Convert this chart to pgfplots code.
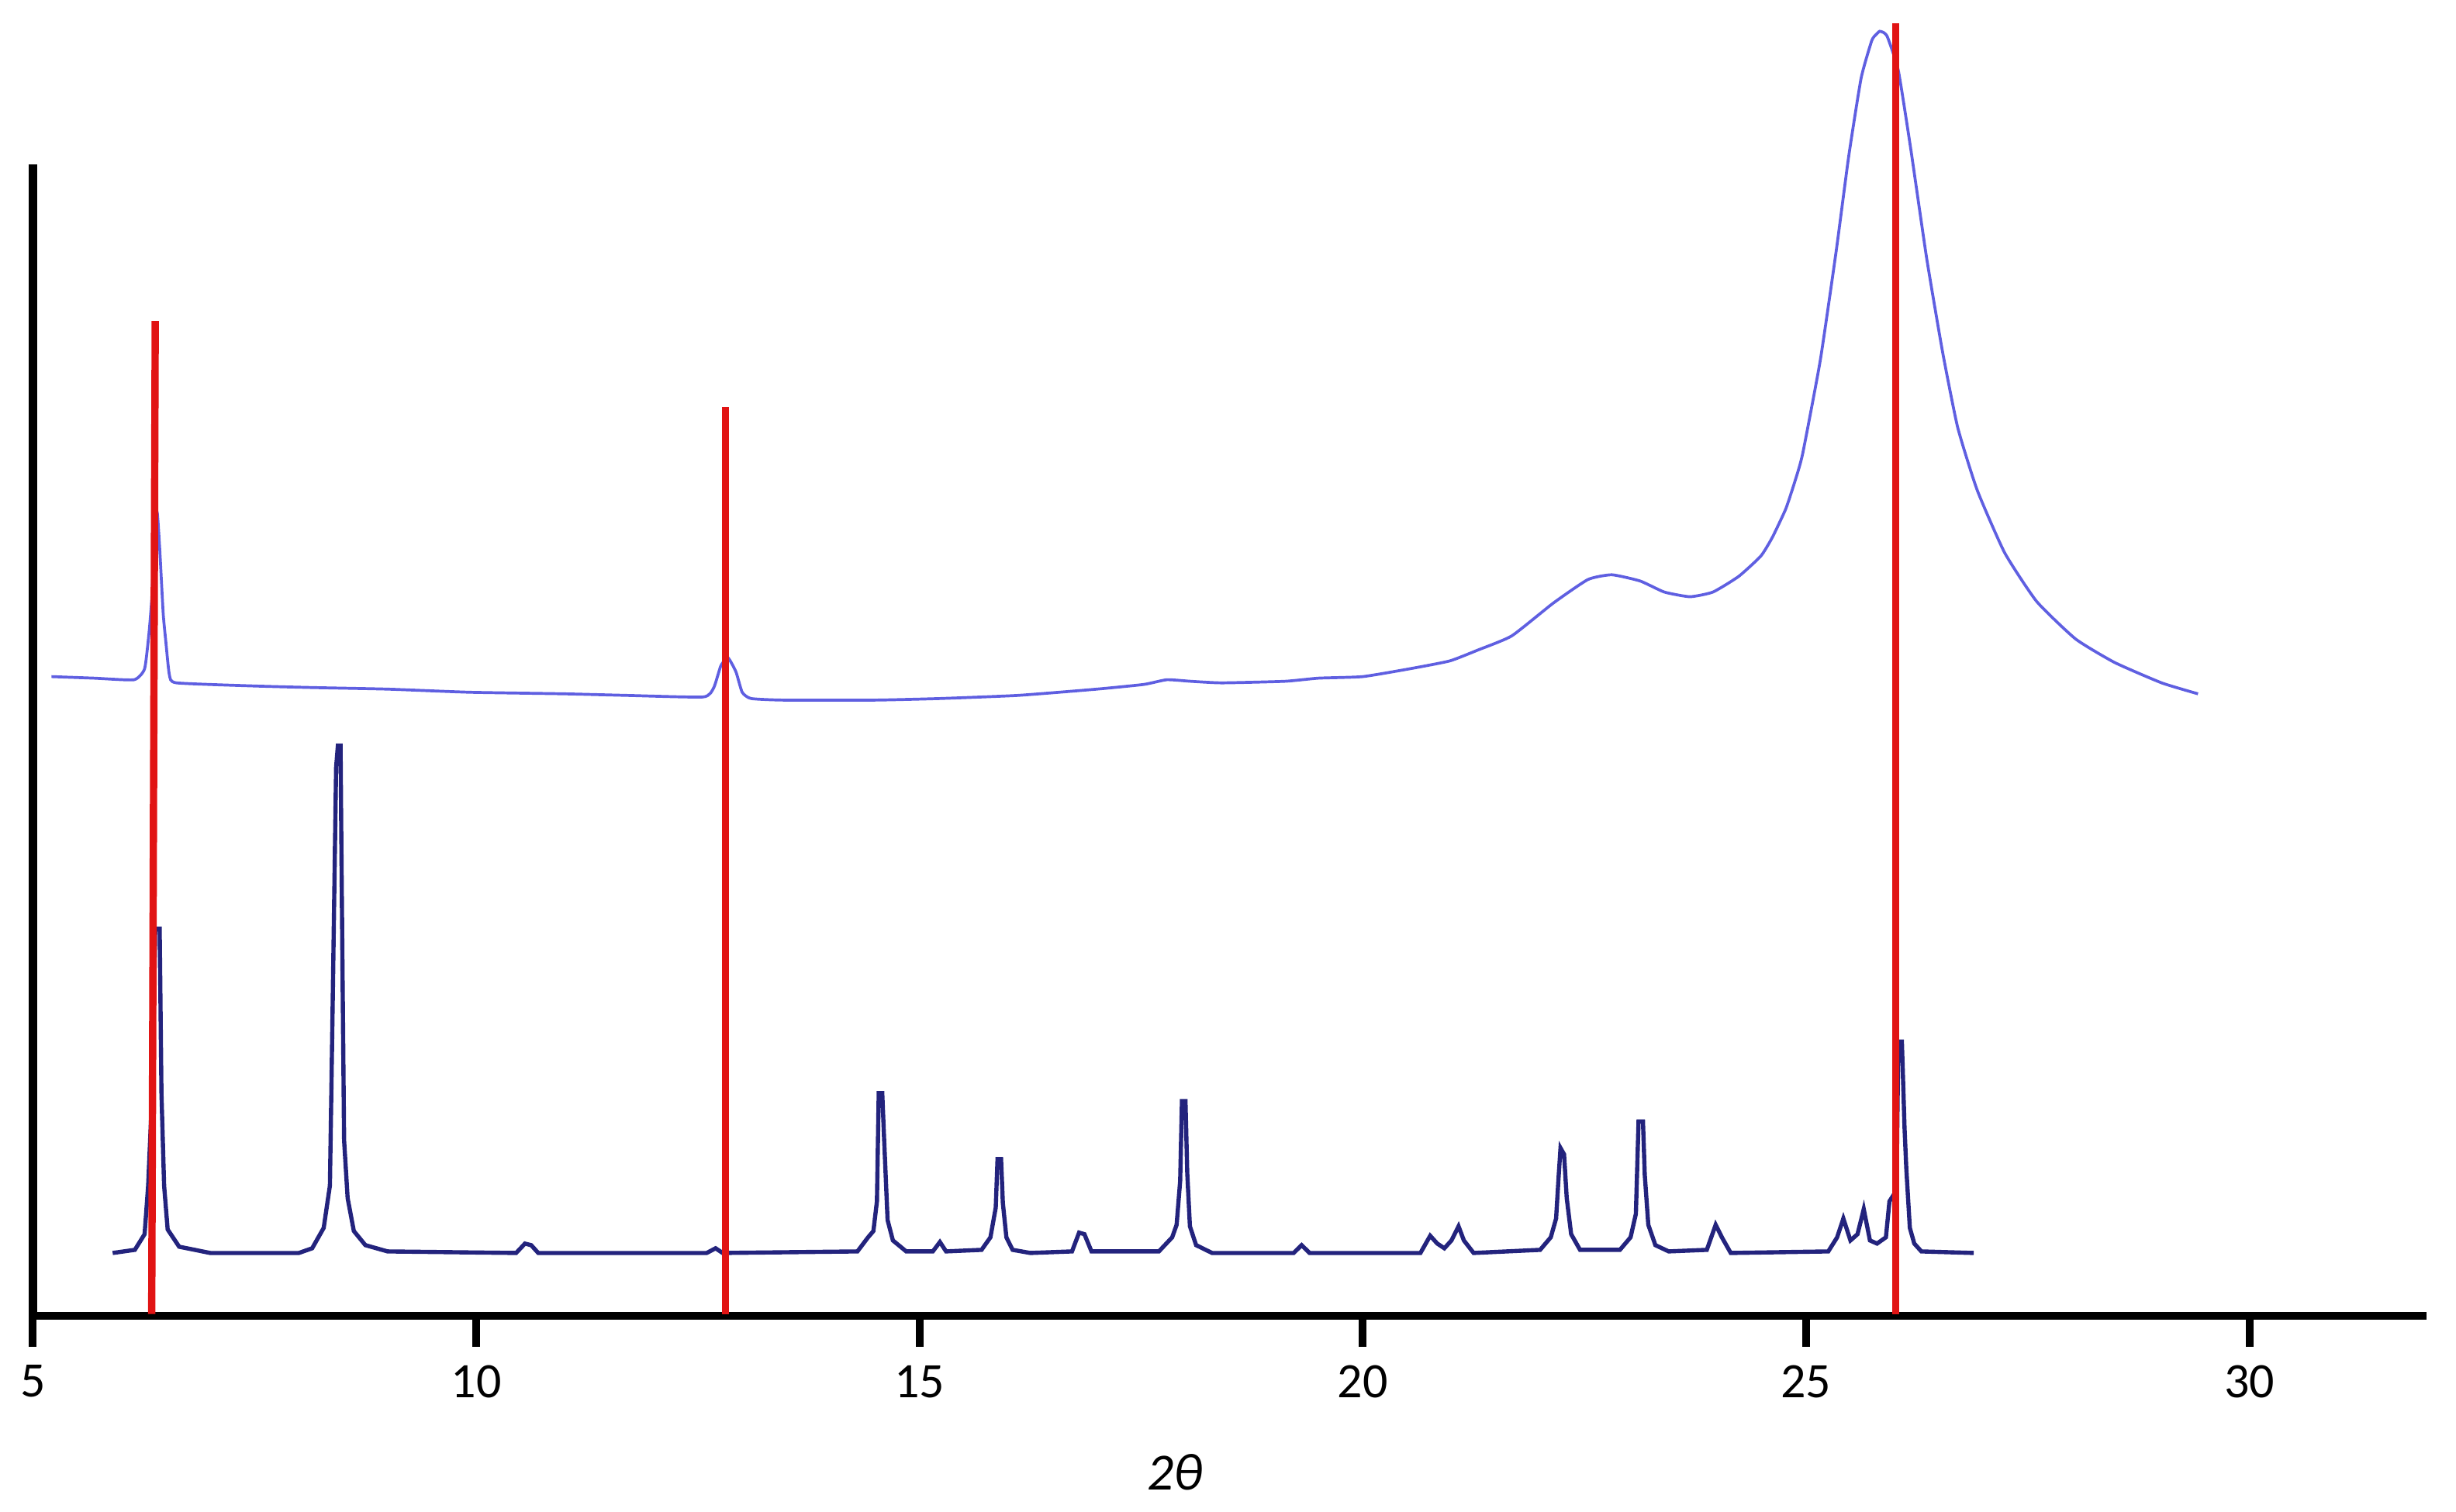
\documentclass[border=0pt]{standalone}
\usepackage{pgfplots}
\pgfplotsset{compat=1.18}
\usepackage{fontspec}
\setmainfont{Carlito}
\definecolor{upper}{RGB}{95,95,225}
\definecolor{lower}{RGB}{35,35,125}
\definecolor{redline}{RGB}{225,20,20}
\pgfplotstableread{
x y
5.21 408
5.69 407
6.14 406
6.26 413
6.31 436
6.34 457
6.36 481
6.40 513
6.43 490
6.47 448
6.50 430
6.54 409
6.62 404
7.50 402
8.16 401
9.00 400
9.93 398
11.00 397
11.70 396
12.56 395
12.68 401
12.76 415
12.84 420
12.93 411
13.00 398
13.10 394
13.46 393
14.50 393
15.23 394
16.11 396
17.00 400
17.53 403
17.79 406
18.06 405
18.41 404
19.12 405
19.50 407
20.00 408
20.53 413
20.98 418
21.30 425
21.68 434
22.15 455
22.54 470
22.81 473
23.13 469
23.40 462
23.69 459
23.95 462
24.24 472
24.49 485
24.62 497
24.77 515
24.87 532
24.96 550
25.16 610
25.34 680
25.48 740
25.62 790
25.74 814
25.79 818
25.83 820
25.88 819
25.92 816
26.04 795
26.18 745
26.36 675
26.54 615
26.71 567
26.93 527
27.24 487
27.60 456
28.04 432
28.48 417
29.01 404
29.42 397
}\uppertab
\pgfplotstableread{
x y
5.90 40
6.15 42
6.26 52
6.30 83
6.35 148
6.38 247
6.43 247
6.45 142
6.48 83
6.52 55
6.65 44
7.00 40
8.00 40
8.15 43
8.28 56
8.35 83
8.38 194
8.42 350
8.44 364
8.47 364
8.48 296
8.51 112
8.55 75
8.62 54
8.75 45
9.00 41
10.45 40
10.55 46
10.62 45
10.70 40
12.60 40
12.70 43
12.78 40
14.30 41
14.42 50
14.48 54
14.52 73
14.54 142
14.58 142
14.60 114
14.64 61
14.70 48
14.85 41
15.15 41
15.23 47
15.30 41
15.70 42
15.80 50
15.86 69
15.88 100
15.92 100
15.94 72
15.98 50
16.05 42
16.25 40
16.72 41
16.80 53
16.86 52
16.94 41
17.70 41
17.85 50
17.90 58
17.94 86
17.96 137
18.00 137
18.02 91
18.05 57
18.12 45
18.30 40
19.22 40
19.31 45
19.40 40
20.65 40
20.76 51
20.84 46
20.92 43
21.00 48
21.08 57
21.14 48
21.25 40
22.00 42
22.12 50
22.18 62
22.21 90
22.23 107
22.27 103
22.30 75
22.35 52
22.45 42
22.90 42
23.02 50
23.08 65
23.11 124
23.16 124
23.18 90
23.22 58
23.30 45
23.45 41
23.88 42
23.98 58
24.05 50
24.15 40
25.25 41
25.35 50
25.42 62
25.50 48
25.58 52
25.65 68
25.72 48
25.80 46
25.90 50
25.94 73
26.02 80
26.04 175
26.08 175
26.09 157
26.11 120
26.13 94
26.17 56
26.22 46
26.30 41
26.89 40
}\lowertab
\begin{document}
\begin{tikzpicture}
\begin{axis}[
  x=16.98pt, y=0.3pt,
  xmin=5, xmax=32.0, ymin=0, ymax=735,
  axis x line=bottom, axis y line=left,
  axis line style={-, line width=1.55pt, black},
  xtick={5,10,15,20,25,30}, ytick=\empty,
  tick align=outside, major tick length=6pt,
  x tick style={line width=1.5pt, black},
  xticklabel style={font=\fontsize{9.5}{11}\selectfont},
  /pgf/number format/assume math mode=true,
  clip=false,
]
\addplot[upper, line width=0.55pt, smooth, tension=0.3] table {\uppertab};
\addplot[lower, line width=0.8pt] table {\lowertab};
\addplot[redline, line width=1.4pt] coordinates {(6.34,1) (6.38,635)};
\addplot[redline, line width=1.4pt] coordinates {(12.81,1) (12.81,580)};
\addplot[redline, line width=1.4pt] coordinates {(26.01,1) (26.01,825)};
\node at (axis cs:17.88,-100) {\fontsize{10}{12}\selectfont\itshape 2θ};
\coordinate (bl) at (axis cs:4.629,-125);
\coordinate (tr) at (axis cs:32.33,840);
\end{axis}
\pgfresetboundingbox
\useasboundingbox (bl) rectangle (tr);
\end{tikzpicture}
\end{document}
